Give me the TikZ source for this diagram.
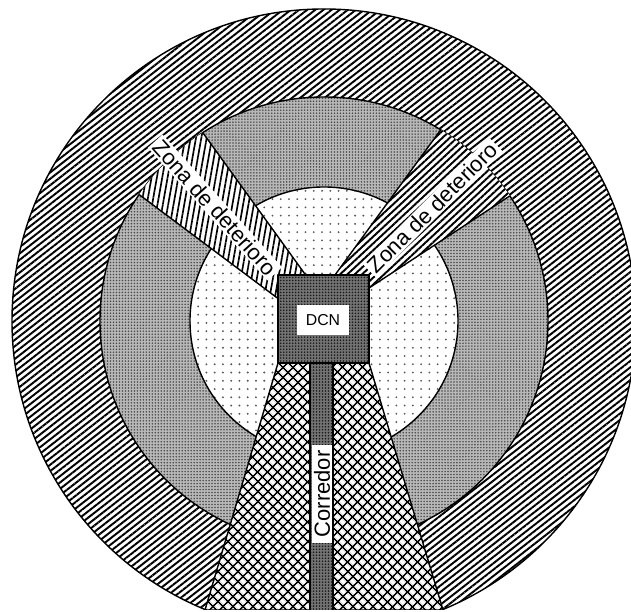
\documentclass[tikz,border=0pt]{standalone}
\usepackage{fontspec}
\setmainfont{Liberation Sans}
\usetikzlibrary{patterns.meta}

\begin{document}
\begin{tikzpicture}[scale=0.02,
    edge/.style={line width=0.8pt, line join=round},
    outerhatch/.style={preaction={fill=white}, pattern={Lines[angle=38,distance=2.85pt,line width=1.1pt]}},
    leftlines/.style={preaction={fill=white}, pattern={Lines[angle=80,distance=3pt,line width=0.95pt]}},
    rightlines/.style={preaction={fill=white}, pattern={Lines[angle=43,distance=2.85pt,line width=1.1pt]}},
    midgray/.style={preaction={fill=black!28}, pattern={Dots[distance=1.7pt,radius=0.5pt]}, pattern color=black!70},
    innerdots/.style={preaction={fill=white}, pattern={Dots[distance=4.7pt,radius=0.6pt]}, pattern color=black!65},
    darkgray/.style={preaction={fill=black!55}, pattern={Dots[distance=1.7pt,radius=0.5pt]}, pattern color=black!90},
    crossed/.style={preaction={fill=white}, pattern={Hatch[angle=45,distance=4pt,line width=0.9pt]}},
    zone/.style={fill=white, inner xsep=1.5pt, inner ysep=1pt, font=\fontsize{12.5}{14}\selectfont},
    dcnbox/.style={fill=white, minimum width=29.5pt, minimum height=17.5pt, inner sep=0pt, font=\fontsize{9}{10}\selectfont}]
  \useasboundingbox (-324,-291) rectangle (307,321);
  \clip (-324,-289) rectangle (307,321);
  \coordinate (c) at (0,0);

  \path[outerhatch] (c) circle[radius=312];
  \draw[edge] (c) circle[radius=312];
  \path[midgray] (c) circle[radius=224];
  \draw[edge] (c) circle[radius=224];
  \path[innerdots] (c) circle[radius=134];
  \draw[edge] (c) circle[radius=134];

  \coordinate (l1) at (-18.4,46);
  \coordinate (l2) at (-173,260);
  \coordinate (l3) at (-258.5,181.5);
  \coordinate (l4) at (-46,22.5);
  \coordinate (r1) at (11,46);
  \coordinate (r2) at (170.5,265);
  \coordinate (r3) at (253,169);
  \coordinate (r4) at (45,33);
  \begin{scope}
    \clip (c) circle[radius=224];
    \path[leftlines] (l1) -- (l2) -- (l3) -- (l4) -- (-46,46) -- cycle;
    \path[rightlines] (r1) -- (r2) -- (r3) -- (r4) -- (45,46) -- cycle;
    \draw[edge] (l1) -- (l2) (l3) -- (l4);
    \draw[edge] (r1) -- (r2) (r3) -- (r4);
  \end{scope}

  \coordinate (w1) at (-46,-42);
  \coordinate (w2) at (45,-42);
  \coordinate (w3) at (119,-289);
  \coordinate (w4) at (-119,-289);
  \path[crossed] (w1) -- (w2) -- (w3) -- (w4) -- cycle;
  \draw[edge] (w1) -- (w4) -- (w3) -- (w2);

  \path[darkgray] (-14,-42) rectangle (9,-292);
  \draw[edge] (-14,-289) -- (-14,-42) (9,-42) -- (9,-289);
  \path[darkgray] (-46,-42) rectangle (45,46);
  \draw[edge] (-46,-42) rectangle (45,46);

  \node[dcnbox] (dcn) at (-1,1) {DCN};
  \node[zone, rotate=-48] (zl) at (-109,113.5) {Zona de deterioro};
  \node[zone, rotate=45] (zr) at (108.5,113.5) {Zona de deterioro};
  \node[zone, rotate=90, inner xsep=3.5pt] (cor) at (-2,-173) {Corredor};
\end{tikzpicture}
\end{document}
